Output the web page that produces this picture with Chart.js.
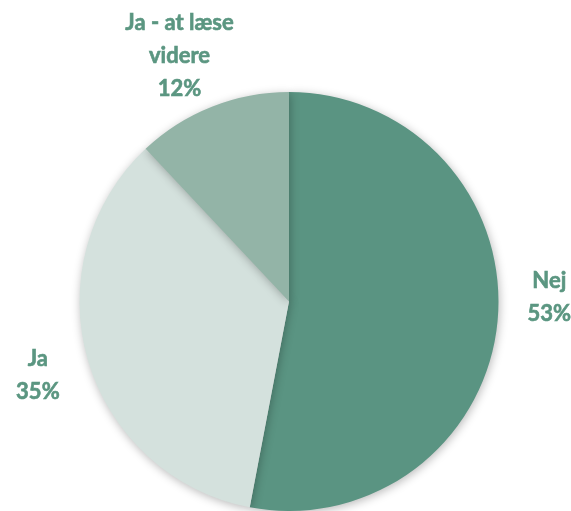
<!DOCTYPE html>
<html><head><meta charset="utf-8">
<script src="https://cdn.jsdelivr.net/npm/chart.js@4/dist/chart.umd.min.js"></script>
<style>html,body{margin:0;padding:0;background:#fff}#wrap{width:571px;height:511px}</style>
</head><body><div id="wrap"><canvas id="c" width="571" height="511"></canvas></div>
<script>
const categories = ["Nej", "Ja", "Ja - at læse videre"];
const labelLines = [["Nej"], ["Ja"], ["Ja - at læse", "videre"]];
const values = [53, 35, 12];
const colors = ["#5a9482", "#d4e1dd", "#93b4a7"];

const shadowPlugin = {
  id: 'shadow',
  beforeDatasetsDraw(chart) {
    const ctx = chart.ctx; ctx.save();
    ctx.shadowColor = 'rgba(0,0,0,0.28)'; ctx.shadowBlur = 10; ctx.shadowOffsetX = 1; ctx.shadowOffsetY = 2;
  },
  afterDatasetsDraw(chart) { chart.ctx.restore(); }
};
// label nudges (style only), relative to the arc's mid-angle anchor
const nudge = [[0, -29], [0, 1], [-11, 3]];
const labelPlugin = {
  id: 'outLabels',
  afterDraw(chart) {
    const ctx = chart.ctx; const meta = chart.getDatasetMeta(0);
    ctx.save();
    ctx.font = 'bold 22px Lato, "Open Sans", sans-serif';
    ctx.fillStyle = '#5b9681'; ctx.strokeStyle = '#5b9681'; ctx.lineWidth = 0.6;
    ctx.textAlign = 'center'; ctx.textBaseline = 'middle';
    meta.data.forEach((arc, i) => {
      const p = arc.getProps(['x','y','startAngle','endAngle','outerRadius'], true);
      const mid = (p.startAngle + p.endAngle) / 2;
      const lines = labelLines[i].concat([values[i] + '%']);
      const lh = 33;
      const d = p.outerRadius + (i === 2 ? 58 : 52);
      const cx = p.x + Math.cos(mid) * d + nudge[i][0], cy = p.y + Math.sin(mid) * d + nudge[i][1];
      lines.forEach((t, k) => {
        const y = cy + (k - (lines.length - 1) / 2) * lh;
        ctx.fillText(t, cx, y); ctx.strokeText(t, cx, y);
      });
    });
    ctx.restore();
  }
};
new Chart(document.getElementById('c'), {
  type: 'pie',
  data: { labels: categories, datasets: [{ data: values, backgroundColor: colors, borderWidth: 0 }] },
  options: {
    responsive: false, animation: false,
    layout: { padding: { top: 92, bottom: 0, left: 79, right: 72 } },
    plugins: { legend: { display: false }, tooltip: { enabled: false } }
  },
  plugins: [shadowPlugin, labelPlugin]
});
</script></body></html>
